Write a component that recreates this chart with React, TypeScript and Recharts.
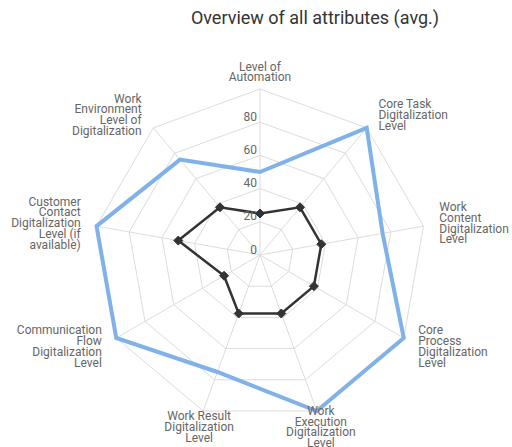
import { RadarChart, Radar, PolarGrid, PolarAngleAxis, PolarRadiusAxis } from "recharts";

// axis labels (line breaks as in the original chart)
const categories = [
  "Level of\nAutomation",
  "Core Task\nDigitalization\nLevel",
  "Work\nContent\nDigitalization\nLevel",
  "Core\nProcess\nDigitalization\nLevel",
  "Work\nExecution\nDigitalization\nLevel",
  "Work Result\nDigitalization\nLevel",
  "Communication\nFlow\nDigitalization\nLevel",
  "Customer\nContact\nDigitalization\nLevel (if\navailable)",
  "Work\nEnvironment\nLevel of\nDigitalization",
];

const maxValues = [50, 100, 75, 100, 100, 75, 100, 100, 75];
const avgValues = [25, 37.5, 37.5, 37.5, 37.5, 37.5, 25, 50, 37.5];
const radiusTicks = [0, 20, 40, 60, 80, 100];

const data = categories.map((c, i) => ({
  attr: c,
  max: maxValues[i],
  avg: avgValues[i],
}));

const CX = 260;
const CY = 255;
const R = 166;
const RAD = Math.PI / 180;
const FONT = "Roboto, sans-serif";

function AngleTick(props: any) {
  const { payload } = props;
  const a = payload.coordinate * RAD;
  const cos = Math.cos(a);
  const sin = Math.sin(a);
  const lines = String(payload.value).split("\n");
  let anchor: "start" | "middle" | "end" = "middle";
  let shift = 0;
  if (cos > 0.5) {
    anchor = "start";
    shift = 4;
  } else if (cos < -0.5) {
    anchor = "end";
    shift = -4;
  }
  const x = CX + (R + 12) * cos + shift;
  const yc = CY - (R + 17) * sin;
  const lh = 10.8;
  const y0 = yc - ((lines.length - 1) * lh) / 2;
  return (
    <text textAnchor={anchor} fontSize={12} fill="#666" fontFamily={FONT}>
      {lines.map((l, i) => (
        <tspan key={i} x={x} y={y0 + i * lh} dominantBaseline="central">
          {l}
        </tspan>
      ))}
    </text>
  );
}

function RadiusTick(props: any) {
  const { x, y, payload } = props;
  if (payload.value >= 100) return null;
  return (
    <text
      x={x - 3}
      y={y - 5.5}
      textAnchor="end"
      dominantBaseline="central"
      fontSize={12}
      fill="#666"
      fontFamily={FONT}
    >
      {payload.value}
    </text>
  );
}

function Diamond(props: any) {
  const { cx, cy } = props;
  const s = 4.5;
  return (
    <polygon
      points={`${cx},${cy - s} ${cx + s},${cy} ${cx},${cy + s} ${cx - s},${cy}`}
      fill="#333"
      stroke="#333"
    />
  );
}

export default function App() {
  return (
    <div style={{ position: "absolute", left: 0, top: 0, width: 512, height: 447, background: "#fff" }}>
      <div
        style={{
          position: "absolute",
          left: 0,
          top: 6,
          width: 630,
          textAlign: "center",
          fontFamily: FONT,
          fontSize: 18,
          lineHeight: "24px",
          color: "#333",
        }}
      >
        Overview of all attributes (avg.)
      </div>
      <div style={{ position: "absolute", left: 0, top: 0 }}>
        <RadarChart width={512} height={447} data={data} cx={CX} cy={CY} outerRadius={R} margin={{ top: 0, right: 0, bottom: 0, left: 0 }}>
          <PolarGrid stroke="#dcdcdc" />
          <PolarAngleAxis dataKey="attr" tick={AngleTick} tickLine={false} axisLine={false} />
          <PolarRadiusAxis
            angle={90}
            domain={[0, 100]}
            ticks={radiusTicks as any}
            tickCount={6}
            tick={RadiusTick}
            axisLine={false}
            tickLine={false}
          />
          <Radar
            dataKey="max"
            stroke="#80b1e8"
            strokeWidth={4}
            fill="none"
            fillOpacity={0}
            dot={{ r: 5, fill: "#80b1e8", stroke: "#80b1e8", strokeWidth: 0 }}
            isAnimationActive={false}
          />
          <Radar
            dataKey="avg"
            stroke="#333"
            strokeWidth={2.5}
            fill="none"
            fillOpacity={0}
            dot={Diamond}
            isAnimationActive={false}
          />
        </RadarChart>
      </div>
    </div>
  );
}
